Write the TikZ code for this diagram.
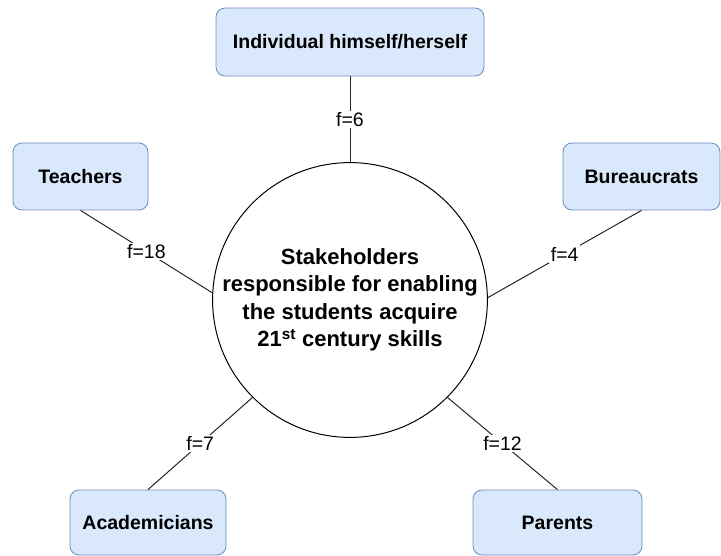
\documentclass[tikz,border=0pt]{standalone}
\usepackage{fontspec}
\setmainfont{Liberation Sans}
\definecolor{boxfill}{HTML}{DAE8FC}
\definecolor{boxdraw}{HTML}{6C8EBF}
\begin{document}
\begin{tikzpicture}[x=1pt,y=-1pt,
  stake/.style={draw=boxdraw,fill=boxfill,rounded corners=9pt,line width=0.8pt,
    inner sep=0pt,font=\fontsize{19.5}{23}\selectfont\bfseries},
  hub/.style={circle,draw,line width=1pt,minimum size=270pt,inner sep=0pt,
    align=center,font=\fontsize{22}{27.5}\selectfont\bfseries},
  link/.style={line width=1pt,draw=black!85},
  flabel/.style={fill=white,inner sep=1.5pt,font=\fontsize{19.5}{23}\selectfont}]
\useasboundingbox (0,0) rectangle (721,556);
\node[hub] (c) at (350,300) {Stakeholders\\responsible for enabling\\the students acquire\\21\textsuperscript{st} century skills};
\node[stake,minimum width=268pt,minimum height=68pt] (ind) at (350,42) {Individual himself/herself};
\node[stake,minimum width=135pt,minimum height=67pt] (tea) at (80.5,176.5) {Teachers};
\node[stake,minimum width=157pt,minimum height=67pt] (bur) at (641.5,176.5) {Bureaucrats};
\node[stake,minimum width=156pt,minimum height=65pt] (aca) at (148,522.5) {Academicians};
\node[stake,minimum width=169pt,minimum height=65pt] (par) at (557.5,522.5) {Parents};
\draw[link] (ind.south) -- node[flabel] {f=6} (c.north);
\draw[link] (tea.south) -- node[flabel] {f=18} (c.177);
\draw[link] (bur.south) -- node[flabel] {f=4} (c.1);
\draw[link] (aca.north) -- node[flabel] {f=7} (c.225);
\draw[link] (par.north) -- node[flabel] {f=12} (c.-45);
\end{tikzpicture}
\end{document}
